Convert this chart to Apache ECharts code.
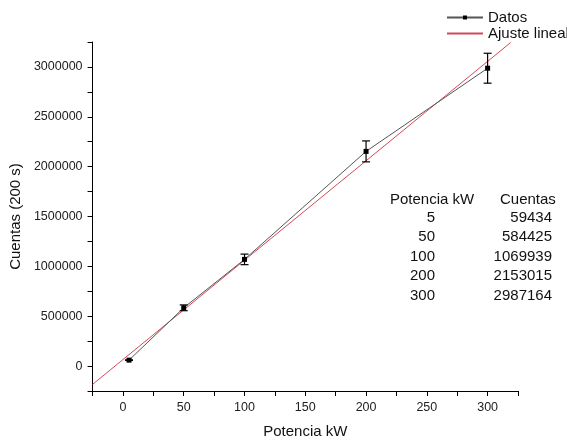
<!DOCTYPE html>
<html>
<head>
<meta charset="utf-8">
<script src="https://cdn.jsdelivr.net/npm/echarts@6/dist/echarts.min.js"></script>
<style>
  * { padding: 0; margin: 0; }
  body { background: #fff; }
  #chart { width: 567px; height: 444px; }
</style>
</head>
<body>
<div id="chart"></div>
<script>
// data
const potencia = [5, 50, 100, 200, 300];
const cuentas = [59434, 584425, 1069939, 2153015, 2987164];
const errores = [3000, 29000, 53000, 105000, 150000];
// ends of the fitted line as drawn
const ajusteX = [-25, 319];
const ajusteY = [-184000, 3245000];

const font = "Liberation Sans, Arial, sans-serif";

const chart = echarts.init(document.getElementById("chart"));

const datos = potencia.map((p, i) => [p, cuentas[i]]);
const barras = potencia.map((p, i) => [p, cuentas[i] - errores[i], cuentas[i] + errores[i]]);
const ajuste = ajusteX.map((x, i) => [x, ajusteY[i]]);

// table on the right side
const tabla = [
  { type: "text", left: 390, top: 192, style: { text: "Potencia kW", font: "15px " + font, fill: "#111" } },
  { type: "text", left: 500, top: 192, style: { text: "Cuentas", font: "15px " + font, fill: "#111" } },
];
potencia.forEach((p, i) => {
  const y = 210 + i * 19.5;
  tabla.push({ type: "text", right: 567 - 435, top: y, style: { text: String(p), font: "15px " + font, fill: "#111", align: "right" } });
  tabla.push({ type: "text", right: 567 - 552, top: y, style: { text: String(cuentas[i]), font: "15px " + font, fill: "#111", align: "right" } });
});

chart.setOption({
  animation: false,
  grid: { left: 92, right: 49, top: 42, bottom: 48 },
  legend: {
    orient: "vertical",
    left: 441,
    top: 5,
    itemWidth: 36,
    itemHeight: 5,
    itemGap: 1,
    textStyle: { fontFamily: font, fontSize: 15, color: "#111" },
    data: [
      { name: "Datos" },
      { name: "Ajuste lineal", itemStyle: { opacity: 0 } },
    ],
  },
  xAxis: {
    type: "value",
    min: -25,
    max: 325,
    interval: 25,
    name: "Potencia kW",
    nameLocation: "middle",
    nameGap: 33,
    nameTextStyle: { fontFamily: font, fontSize: 15, color: "#111" },
    splitLine: { show: false },
    axisLine: { onZero: false, lineStyle: { color: "#000", width: 1 } },
    axisTick: { length: 5, lineStyle: { color: "#000" } },
    axisLabel: {
      margin: 10,
      fontFamily: font,
      fontSize: 12.5,
      color: "#222",
      formatter: (v) => (v % 50 === 0 ? String(v) : ""),
    },
  },
  yAxis: {
    type: "value",
    min: -250000,
    max: 3250000,
    interval: 250000,
    name: "Cuentas (200 s)",
    nameLocation: "middle",
    nameGap: 68,
    nameTextStyle: { fontFamily: font, fontSize: 15, color: "#111" },
    splitLine: { show: false },
    axisLine: { show: true, onZero: false, lineStyle: { color: "#000", width: 1 } },
    axisTick: { show: true, length: 5, lineStyle: { color: "#000" } },
    axisLabel: {
      margin: 10,
      fontFamily: font,
      fontSize: 12.5,
      color: "#222",
      formatter: (v) => (v % 500000 === 0 ? String(v) : ""),
    },
  },
  graphic: tabla,
  series: [
    {
      name: "Ajuste lineal",
      type: "line",
      data: ajuste,
      showSymbol: false,
      symbol: "none",
      lineStyle: { width: 1, color: "#d4485a" },
      itemStyle: { color: "#d4485a" },
      z: 2,
    },
    {
      name: "Datos",
      type: "line",
      data: datos,
      symbol: "rect",
      symbolSize: 5,
      lineStyle: { width: 1, color: "#555" },
      itemStyle: { color: "#000" },
      z: 3,
    },
    {
      name: "Error",
      type: "custom",
      data: barras,
      z: 4,
      renderItem: (params, api) => {
        const x = api.value(0);
        const top = api.coord([x, api.value(2)]);
        const bot = api.coord([x, api.value(1)]);
        const cap = 4;
        const st = { stroke: "#000", lineWidth: 1.2 };
        return {
          type: "group",
          children: [
            { type: "line", shape: { x1: top[0], y1: top[1], x2: bot[0], y2: bot[1] }, style: st },
            { type: "line", shape: { x1: top[0] - cap, y1: top[1], x2: top[0] + cap, y2: top[1] }, style: st },
            { type: "line", shape: { x1: bot[0] - cap, y1: bot[1], x2: bot[0] + cap, y2: bot[1] }, style: st },
          ],
        };
      },
    },
  ],
});
</script>
</body>
</html>
